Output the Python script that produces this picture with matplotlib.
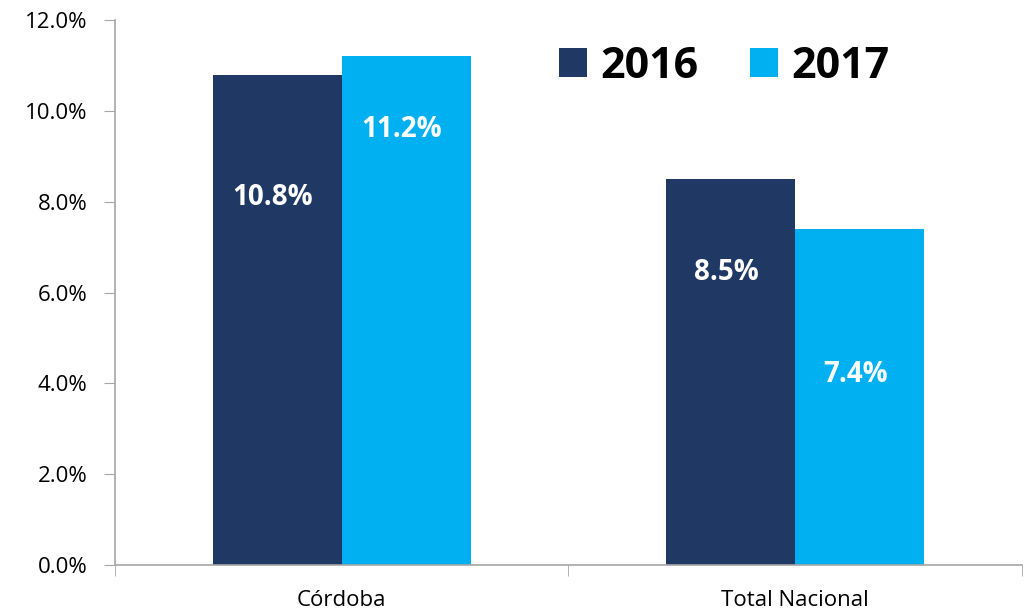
import matplotlib.pyplot as plt
import numpy as np

plt.rcParams['font.family'] = ['Open Sans', 'DejaVu Sans']

categories = ["Córdoba", "Total Nacional"]
years = ["2016", "2017"]
v2016 = [10.8, 8.5]
v2017 = [11.2, 7.4]
colors = ["#203864", "#00B0F0"]

# heights where Excel put the value labels (in %)
label_y = [[8.1, 6.45], [9.6, 4.2]]

fig = plt.figure(figsize=(10.33, 6.13), dpi=100)
ax = fig.add_axes([0.1113, 0.0783, 0.878, 0.889])

x = np.arange(len(categories))
w = 0.284
for k, vals in enumerate([v2016, v2017]):
    xs = x + (k - 0.5) * w
    ax.bar(xs, vals, width=w, color=colors[k], label=years[k])
    for i, v in enumerate(vals):
        ax.text(xs[i] - 0.01, label_y[k][i], "%.1f%%" % v, color="white",
                fontsize=20, fontweight="bold", ha="center", va="center")

ax.set_xlim(-0.5, 1.5)
ax.set_ylim(0, 12)
ax.set_yticks(np.arange(0, 12.1, 2))
ax.set_yticklabels(["%.1f%%" % t for t in np.arange(0, 12.1, 2)], fontsize=16)
ax.set_xticks(x)
ax.set_xticklabels(categories, fontsize=16)
ax.tick_params(axis="x", length=0, pad=18)
ax.set_xticks([-0.5, 0.5, 1.5], minor=True)
ax.tick_params(axis="x", which="minor", length=8, color="#A6A6A6")
ax.tick_params(axis="y", length=8, color="#A6A6A6", pad=12)

for s in ["top", "right"]:
    ax.spines[s].set_visible(False)
for s in ["left", "bottom"]:
    ax.spines[s].set_color("#A6A6A6")
    ax.spines[s].set_linewidth(1.2)

leg = ax.legend(loc="upper left", bbox_to_anchor=(0.49, 0.955), ncol=2,
                frameon=False, prop={"size": 31, "weight": "bold"},
                handlelength=0.65, handleheight=0.65, handletextpad=0.3,
                columnspacing=1.2, borderpad=0, borderaxespad=0)

fig.savefig("out.png")
